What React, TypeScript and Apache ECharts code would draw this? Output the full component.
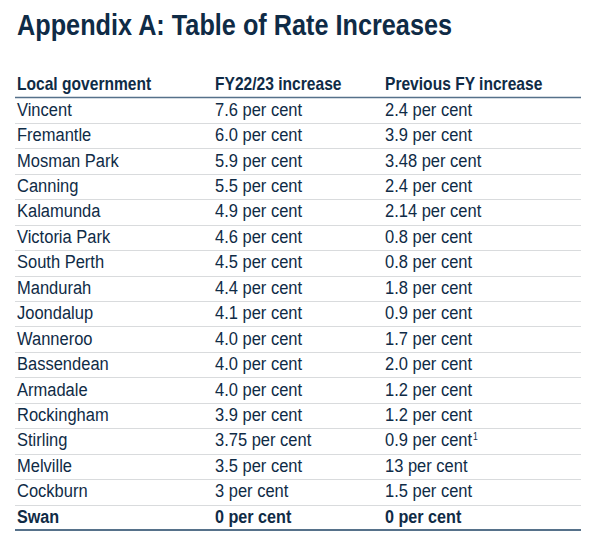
import React, { useEffect, useRef } from "react";
import * as echarts from "echarts";

const TITLE = "Appendix A: Table of Rate Increases";
const HEADERS = ["Local government", "FY22/23 increase", "Previous FY increase"];
const LGAS = [
  "Vincent", "Fremantle", "Mosman Park", "Canning", "Kalamunda", "Victoria Park",
  "South Perth", "Mandurah", "Joondalup", "Wanneroo", "Bassendean", "Armadale",
  "Rockingham", "Stirling", "Melville", "Cockburn", "Swan",
];
const FY2223 = ["7.6", "6.0", "5.9", "5.5", "4.9", "4.6", "4.5", "4.4", "4.1", "4.0", "4.0", "4.0", "3.9", "3.75", "3.5", "3", "0"];
const PREV_FY = ["2.4", "3.9", "3.48", "2.4", "2.14", "0.8", "0.8", "1.8", "0.9", "1.7", "2.0", "1.2", "1.2", "0.9", "13", "1.5", "0"];
const PREV_NOTES = ["", "", "", "", "", "", "", "", "", "", "", "", "", "1", "", "", ""];
const UNIT = " per cent";

const FONT = "'Liberation Sans', Arial, Helvetica, sans-serif";
const INK = "#0f2b46";
const RULE = "#56718a";
const SEP = "#d9dbdd";
const COLS = [17, 215, 385];
const LINE_L = 15;
const LINE_R = 581;

export default function App() {
  const ref = useRef<HTMLDivElement>(null);
  useEffect(() => {
    if (!ref.current) return;
    const chart = echarts.init(ref.current, null, { renderer: "svg" });
    const last = LGAS.length - 1;
    const txt = (x: number, y: number, text: string, size: number, sx: number, bold: boolean, rich?: any) => ({
      type: "text",
      x,
      y,
      scaleX: sx,
      style: {
        text,
        x: 0,
        y: 0,
        fontSize: size,
        fontFamily: FONT,
        fontWeight: bold ? "bold" : "normal",
        fill: INK,
        align: "left",
        verticalAlign: "middle",
        textAlign: "left",
        textVerticalAlign: "middle",
        rich,
      },
    });
    const option: any = {
      animation: false,
      backgroundColor: "#ffffff",
      grid: { left: 0, right: 0, top: 97.5, bottom: 16 },
      xAxis: { type: "value", min: 0, max: 600, show: false },
      yAxis: { type: "category", data: LGAS, inverse: true, show: false },
      graphic: [
        txt(17, 25, TITLE, 29.2, 0.865, true),
        ...HEADERS.map((h, k) => txt(COLS[k], 84.5, h, 18, 0.866, true)),
        {
          type: "line",
          shape: { x1: LINE_L, y1: 97.5, x2: LINE_R, y2: 97.5 },
          style: { stroke: RULE, lineWidth: 1.5 },
        },
      ],
      series: [
        {
          type: "custom",
          data: LGAS.map((_, i) => [0, i]),
          encode: { x: 0, y: 1 },
          renderItem: (params: any, api: any) => {
            const i = params.dataIndex;
            const c = api.coord([0, i]);
            const h = api.size([0, 1])[1];
            const yc = c[1];
            const bottom = yc + h / 2;
            const left = params.coordSys.x;
            const bold = i === last;
            const size = bold ? 18.8 : 19.2;
            const sx = bold ? 0.86 : 0.86;
            const ty = yc - 1;
            const note = PREV_NOTES[i];
            const prevText = PREV_FY[i] + UNIT + (note ? "{sup|" + note + "}" : "");
            const rich = note
              ? { sup: { fontSize: 10, fontFamily: FONT, fill: INK, verticalAlign: "top", padding: [1, 0, 0, 1] } }
              : undefined;
            const children: any[] = [
              txt(left + COLS[0], ty, LGAS[i], size, sx, bold),
              txt(left + COLS[1], ty, FY2223[i] + UNIT, size, sx, bold),
              txt(left + COLS[2], ty, prevText, size, sx, bold, rich),
              {
                type: "line",
                shape: {
                  x1: left + LINE_L,
                  y1: bold ? 530 : Math.round(bottom) + 0.5,
                  x2: left + LINE_R,
                  y2: bold ? 530 : Math.round(bottom) + 0.5,
                },
                style: bold ? { stroke: RULE, lineWidth: 2 } : { stroke: SEP, lineWidth: 1 },
              },
            ];
            return { type: "group", children };
          },
        },
      ],
    };
    chart.setOption(option);
    return () => chart.dispose();
  }, []);
  return (
    <div
      ref={ref}
      style={{ position: "fixed", left: 0, top: 0, width: 600, height: 546, background: "#fff" }}
    />
  );
}
